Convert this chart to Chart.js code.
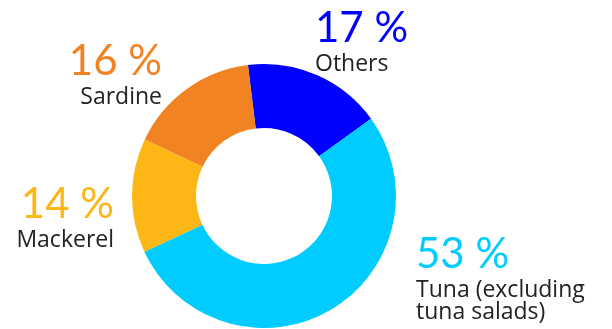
<!DOCTYPE html>
<html lang="en">
<head>
  <meta charset="UTF-8">
  <title>Canned fish shares</title>
  <script src="https://cdn.jsdelivr.net/npm/chart.js"></script>
  <style>
    body {
      margin: 0;
      background-color: #ffffff;
    }
    .chart-box {
      width: 612px;
      height: 329px;
    }
  </style>
</head>
<body>
  <div class="chart-box">
    <canvas id="shareChart"></canvas>
  </div>

  <script>
    // Chart data (clockwise from the top)
    var categories = ['Others', 'Tuna (excluding|tuna salads)', 'Mackerel', 'Sardine'];
    var shares = [17, 53, 14, 16];
    var sliceColors = ['#0000ff', '#00ccff', '#fcb717', '#f28323'];

    // where each label sits: x, baseline of the percentage, text alignment
    var labelSpots = [
      { x: 315, y: 42, align: 'left' },
      { x: 416, y: 268, align: 'left' },
      { x: 114, y: 218, align: 'right' },
      { x: 162, y: 75, align: 'right' }
    ];

    var sliceLabels = {
      id: 'sliceLabels',
      afterDraw: function (chart) {
        var ctx = chart.ctx;
        ctx.save();
        ctx.textBaseline = 'alphabetic';
        labelSpots.forEach(function (spot, i) {
          ctx.textAlign = spot.align;
          ctx.fillStyle = sliceColors[i];
          ctx.font = '400 42px Lato, "Open Sans", sans-serif';
          ctx.fillText(shares[i] + ' %', spot.x, spot.y);
          ctx.fillStyle = '#222222';
          ctx.font = '400 23px "Open Sans", Lato, sans-serif';
          categories[i].split('|').forEach(function (line, j) {
            ctx.fillText(line, spot.x, spot.y + 29 + j * 22);
          });
        });
        ctx.restore();
      }
    };

    var ctx = document.getElementById('shareChart').getContext('2d');
    var shareChart = new Chart(ctx, {
      type: 'doughnut',
      data: {
        labels: categories,
        datasets: [{
          data: shares,
          backgroundColor: sliceColors,
          borderWidth: 0
        }]
      },
      options: {
        responsive: true,
        maintainAspectRatio: false,
        animation: false,
        rotation: -7,
        cutout: '51.5%',
        layout: {
          padding: { left: 132, right: 216, top: 64, bottom: 1 }
        },
        plugins: {
          legend: { display: false },
          tooltip: { enabled: false }
        }
      },
      plugins: [sliceLabels]
    });
  </script>
</body>
</html>
